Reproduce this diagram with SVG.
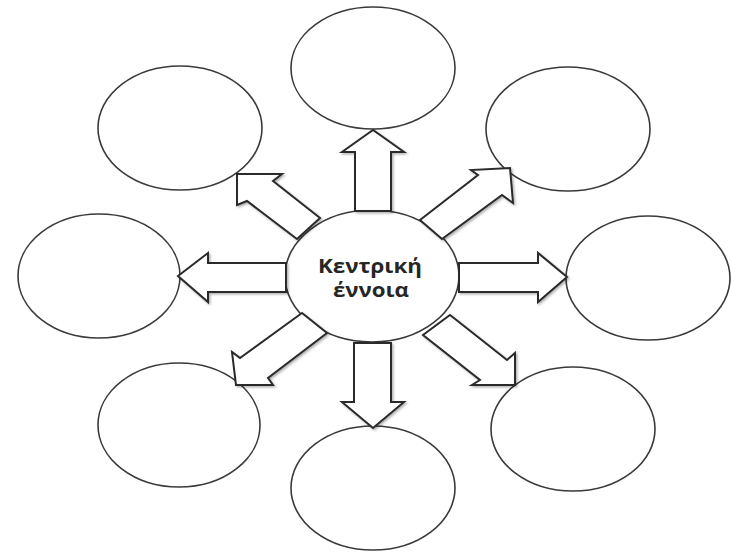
<svg xmlns="http://www.w3.org/2000/svg" width="731" height="553" viewBox="0 0 731 553">
<style>
.oval{fill:#fff;stroke:#3a3a3a;stroke-width:1.6}
.arrow{fill:#fff;stroke:#2a2a2a;stroke-width:2;stroke-linejoin:miter}
.label{font-family:"Open Sans","Liberation Sans",sans-serif;font-weight:bold;font-size:19px;fill:#262626;text-anchor:middle}
</style>
<defs>
<filter id="sh" x="-20%" y="-20%" width="140%" height="140%">
<feDropShadow dx="1.5" dy="1.5" stdDeviation="1" flood-color="#000" flood-opacity="0.3"/>
</filter>
</defs>
<rect width="731" height="553" fill="#fff"/>
<g id="n-top"><ellipse class="oval" cx="373" cy="68" rx="82" ry="61"/></g>
<g id="n-topleft"><ellipse class="oval" cx="180" cy="128" rx="82" ry="62"/></g>
<g id="n-topright"><ellipse class="oval" cx="568" cy="129" rx="82" ry="62"/></g>
<g id="n-left"><ellipse class="oval" cx="99" cy="276" rx="81" ry="62"/></g>
<g id="n-right"><ellipse class="oval" cx="648" cy="278" rx="82" ry="62"/></g>
<g id="n-bottomleft"><ellipse class="oval" cx="179" cy="425" rx="81" ry="62"/></g>
<g id="n-bottomright"><ellipse class="oval" cx="573" cy="429" rx="82" ry="62"/></g>
<g id="n-bottom"><ellipse class="oval" cx="373" cy="488" rx="82" ry="62"/></g>
<g id="n-center">
<ellipse class="oval" cx="372" cy="276" rx="87" ry="66"/>
<text class="label" x="370" y="273" textLength="104" lengthAdjust="spacingAndGlyphs">Κεντρική</text>
<text class="label" x="371" y="297" textLength="76" lengthAdjust="spacingAndGlyphs">έννοια</text>
</g>
<g id="connectors" filter="url(#sh)">
<polygon class="arrow" points="355,211 355,152 342,152 373,130 404,152 391,152 391,211"/>
<polygon class="arrow" points="354,343 354,402 342,402 373,428 404,402 391,402 391,343"/>
<polygon class="arrow" points="286,263 208,263 208,253 178,276 208,302 208,292 286,292"/>
<polygon class="arrow" points="459,263 538,263 538,253 567,277 538,302 538,292 459,292"/>
<polygon class="arrow" points="320,218 273,181 282,174 237,174 237,205 247,201 297,239"/>
<polygon class="arrow" points="420,220 478,175 471,170 510,168 513,203 502,195 442,239"/>
<polygon class="arrow" points="302,313 240,358 232,352 236,385 273,385 268,378 327,333"/>
<polygon class="arrow" points="450,315 507,360 515,353 515,385 472,385 480,380 423,335"/>
</g>
</svg>
